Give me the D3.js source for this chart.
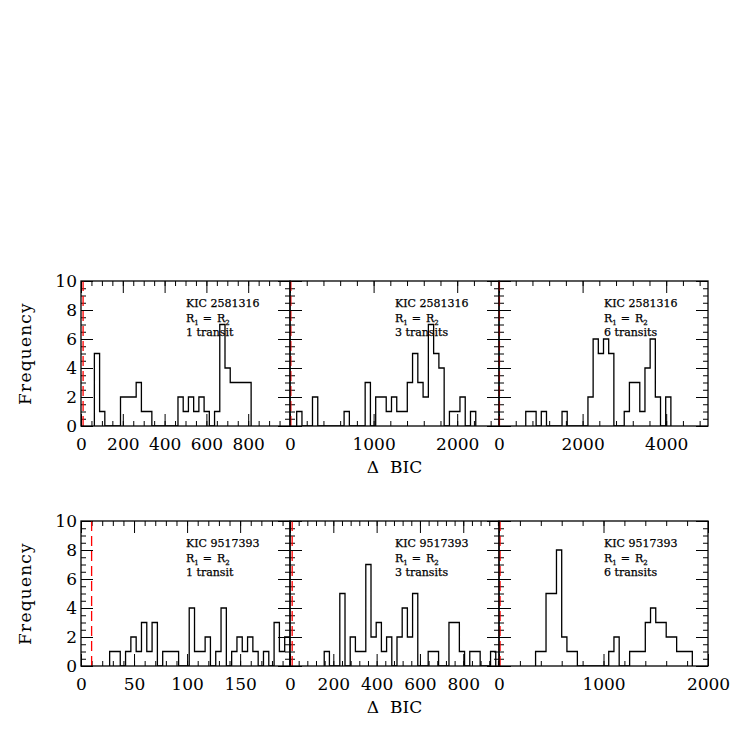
<!DOCTYPE html>
<html>
<head>
<meta charset="utf-8">
<script src="https://cdn.jsdelivr.net/npm/d3@7"></script>
<style>
  body { margin: 0; background: #fff; }
  svg { display: block; font-family: "DejaVu Serif", serif; }
</style>
</head>
<body>
<svg id="vis" width="747" height="747"></svg>
<script>
// rows = stars, columns = number of transits fitted
const stars = ["KIC 2581316", "KIC 9517393"];
const transits = ["1 transit", "3 transits", "6 transits"];

// delta BIC range of each panel, and its ticks
const xMax = [[1000, 2500, 5000], [197, 965, 2000]];
const labelStep = [[200, 1000, 2000], [50, 200, 1000]];
const minorStep = [[50, 200, 400], [10, 40, 200]];
const yTicks = [0, 2, 4, 6, 8, 10];
const bicLimit = 10;

// histograms: left edge of first bin, bin width, counts per bin
const binStart = [[64, 80, 640], [27, 158, 350]];
const binWidth = [[25, 63, 124], [5, 24, 50]];

const kic2581316_1 = [5,1,0,0,0,2,2,2,3,1,1,0,0,0,0,0,2,1,2,1,2,1,0,1,7,4,3,3,3,3];
const kic2581316_3 = [1,0,0,2,0,0,0,0,0,1,0,0,0,3,0,2,2,1,2,1,1,3,5,3,2,7,5,4,0,1,1,2,0,1];
const kic2581316_6 = [1,1,0,1,0,0,0,1,0,0,0,0,2,6,5,6,5,0,0,1,3,3,1,4,6,2,0,2];
const kic9517393_1 = [1,1,0,1,2,1,3,1,3,0,1,1,1,0,0,4,1,1,2,0,1,4,0,1,2,1,2,1,0,1,0,3,1,2];
const kic9517393_3 = [1,0,0,5,0,2,1,1,7,2,3,1,2,0,2,4,2,5,0,0,1,1,0,0,3,3,1,0,1,1,0,0,1];
const kic9517393_6 = [1,1,5,5,8,2,1,1,0,0,0,0,0,0,1,2,0,0,1,1,1,3,4,3,3,2,2,1,1,1];

const histograms = [
  [kic2581316_1, kic2581316_3, kic2581316_6],
  [kic9517393_1, kic9517393_3, kic9517393_6]
];

// layout
const rowTop = [281, 521];
const panelX = [81, 290, 499];
const panelW = 209;
const panelH = 145;
const tickFont = 17;

translate = function(a, b) {
  return "translate(" + a + ", " + b + ")";
}

const svg = d3.select("#vis");

function drawTicks(g, axis, values, size, fmt) {
  g.call(axis.tickValues(values).tickSize(-size).tickSizeOuter(0).tickPadding(12).tickFormat(fmt))
    .attr("font-family", null)
    .attr("font-size", tickFont);
  g.select(".domain").remove();
  g.selectAll("line").attr("stroke-width", 1);
}

function drawPanel(r, c) {
  const counts = histograms[r][c];
  const g = svg.append("g").attr("transform", translate(panelX[c], rowTop[r]));

  const x = d3.scaleLinear().domain([0, xMax[r][c]]).range([0, panelW]);
  const y = d3.scaleLinear().domain([0, 10]).range([panelH, 0]);

  const clipId = "clip" + r + c;
  g.append("clipPath").attr("id", clipId)
    .append("rect").attr("width", panelW).attr("height", panelH);

  // ticks on all four sides, pointing inwards
  const minor = d3.range(0, xMax[r][c] + 0.001, minorStep[r][c]);
  const major = d3.range(0, xMax[r][c] + 0.001, labelStep[r][c]);
  const shown = major.filter(v => c == 2 || v < xMax[r][c]);
  const yMinor = d3.range(0, 10.001, 0.5);

  let bottom = g.append("g").attr("transform", translate(0, panelH));
  drawTicks(bottom.append("g"), d3.axisBottom(x), minor, 5, "");
  drawTicks(bottom.append("g"), d3.axisBottom(x), major, 12, v => shown.includes(v) ? v : "");

  drawTicks(g.append("g"), d3.axisTop(x), minor, 5, "");
  drawTicks(g.append("g"), d3.axisTop(x), major, 12, "");

  drawTicks(g.append("g"), d3.axisLeft(y), yMinor, 5, "");
  let left = g.append("g");
  drawTicks(left, d3.axisLeft(y), yTicks, 12, v => c == 0 ? v : "");
  left.selectAll("text").attr("x", -4);

  let right = g.append("g").attr("transform", translate(panelW, 0));
  drawTicks(right.append("g"), d3.axisRight(y), yMinor, 5, "");
  drawTicks(right.append("g"), d3.axisRight(y), yTicks, 12, "");

  // histogram outline
  const edges = counts.map((d, i) => binStart[r][c] + i * binWidth[r][c]);
  const end = binStart[r][c] + counts.length * binWidth[r][c];
  const pts = [[edges[0], 0]].concat(counts.map((d, i) => [edges[i], d]), [[end, 0]]);
  const line = d3.line()
    .x(d => x(d[0]))
    .y(d => y(d[1]))
    .curve(d3.curveStepAfter);

  g.append("path")
    .attr("clip-path", "url(#" + clipId + ")")
    .attr("d", line(pts))
    .attr("fill", "none")
    .attr("stroke", "#000")
    .attr("stroke-width", 1.3);

  // delta BIC = 10 threshold
  g.append("line")
    .attr("x1", x(bicLimit)).attr("x2", x(bicLimit))
    .attr("y1", 0).attr("y2", panelH)
    .attr("stroke", "#f00")
    .attr("stroke-width", 1.3)
    .attr("stroke-dasharray", "10,5");

  g.append("rect")
    .attr("width", panelW)
    .attr("height", panelH)
    .attr("fill", "none")
    .attr("stroke", "#000")
    .attr("stroke-width", 1.3);

  // label block
  let note = g.append("g")
    .attr("transform", translate(105, 0))
    .attr("font-size", 11)
    .attr("stroke", "#000")
    .attr("stroke-width", 0.25);
  note.append("text").attr("y", 26).text(stars[r]);
  let eq = note.append("text").attr("y", 40.5);
  eq.append("tspan").text("R");
  eq.append("tspan").attr("font-size", 7).attr("dy", 3).text("1");
  eq.append("tspan").attr("dy", -3).attr("dx", 4).text("=");
  eq.append("tspan").attr("dx", 5).text("R");
  eq.append("tspan").attr("font-size", 7).attr("dy", 3).text("2");
  note.append("text").attr("y", 55).text(transits[c]);
}

for (let r = 0; r < 2; r++) {
  for (let c = 0; c < 3; c++) {
    drawPanel(r, c);
  }

  svg.append("text")
    .attr("transform", translate(31, rowTop[r] + panelH / 2) + " rotate(-90)")
    .attr("text-anchor", "middle")
    .attr("font-size", tickFont)
    .attr("letter-spacing", 1.2)
    .text("Frequency");

  svg.append("text")
    .attr("x", panelX[0] + panelW * 1.5)
    .attr("y", rowTop[r] + panelH + 47)
    .attr("text-anchor", "middle")
    .attr("font-size", tickFont)
    .style("white-space", "pre")
    .text("Δ  BIC");
}
</script>
</body>
</html>
